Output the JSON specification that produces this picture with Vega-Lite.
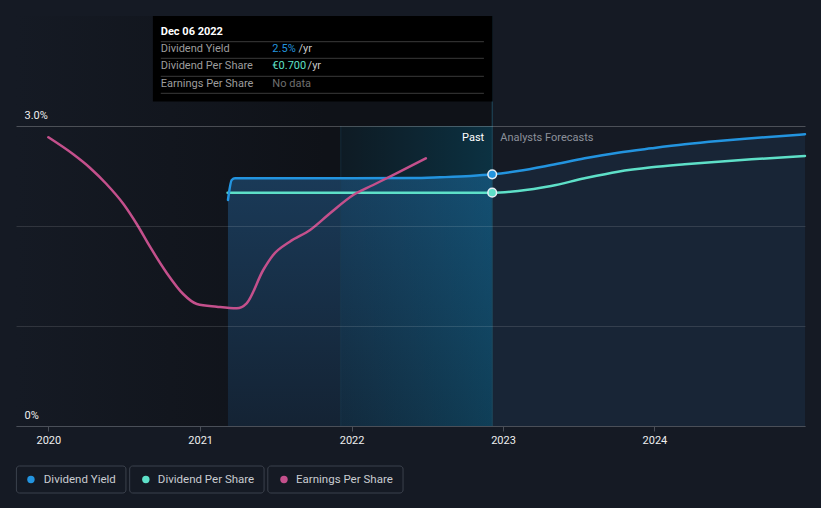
{
  "$schema": "https://vega.github.io/schema/vega-lite/v6.json",
  "width": 789,
  "height": 410,
  "autosize": {"type": "none"},
  "padding": {"left": 16, "right": 16, "top": 16, "bottom": 82},
  "background": "#151a24",
  "config": {"view": {"stroke": null}, "font": "Roboto"},
  "datasets": {
    "s": [
      {"date": "2021-03-09", "series": "Dividend Yield", "value": 2.26},
      {"date": "2021-03-18", "series": "Dividend Yield", "value": 2.46},
      {"date": "2021-03-26", "series": "Dividend Yield", "value": 2.477},
      {"date": "2021-08-01", "series": "Dividend Yield", "value": 2.478},
      {"date": "2022-01-01", "series": "Dividend Yield", "value": 2.477},
      {"date": "2022-05-27", "series": "Dividend Yield", "value": 2.479},
      {"date": "2022-08-02", "series": "Dividend Yield", "value": 2.487},
      {"date": "2022-10-15", "series": "Dividend Yield", "value": 2.5},
      {"date": "2022-12-06", "series": "Dividend Yield", "value": 2.517},
      {"date": "2023-02-06", "series": "Dividend Yield", "value": 2.55},
      {"date": "2023-04-27", "series": "Dividend Yield", "value": 2.61},
      {"date": "2023-07-17", "series": "Dividend Yield", "value": 2.677},
      {"date": "2023-10-05", "series": "Dividend Yield", "value": 2.733},
      {"date": "2023-12-25", "series": "Dividend Yield", "value": 2.777},
      {"date": "2024-03-14", "series": "Dividend Yield", "value": 2.817},
      {"date": "2024-06-03", "series": "Dividend Yield", "value": 2.85},
      {"date": "2024-08-22", "series": "Dividend Yield", "value": 2.877},
      {"date": "2024-12-29", "series": "Dividend Yield", "value": 2.917},
      {"date": "2021-03-08", "series": "Dividend Per Share", "value": 2.333},
      {"date": "2022-12-06", "series": "Dividend Per Share", "value": 2.333},
      {"date": "2023-02-06", "series": "Dividend Per Share", "value": 2.35},
      {"date": "2023-04-27", "series": "Dividend Per Share", "value": 2.4},
      {"date": "2023-07-17", "series": "Dividend Per Share", "value": 2.477},
      {"date": "2023-10-05", "series": "Dividend Per Share", "value": 2.543},
      {"date": "2023-12-25", "series": "Dividend Per Share", "value": 2.587},
      {"date": "2024-03-14", "series": "Dividend Per Share", "value": 2.617},
      {"date": "2024-06-03", "series": "Dividend Per Share", "value": 2.643},
      {"date": "2024-08-22", "series": "Dividend Per Share", "value": 2.667},
      {"date": "2024-12-29", "series": "Dividend Per Share", "value": 2.7},
      {"date": "2020-01-01", "series": "Earnings Per Share", "value": 2.887},
      {"date": "2020-03-01", "series": "Earnings Per Share", "value": 2.717},
      {"date": "2020-04-10", "series": "Earnings Per Share", "value": 2.583},
      {"date": "2020-05-20", "series": "Earnings Per Share", "value": 2.42},
      {"date": "2020-06-30", "series": "Earnings Per Share", "value": 2.22},
      {"date": "2020-08-01", "series": "Earnings Per Share", "value": 2.02},
      {"date": "2020-09-02", "series": "Earnings Per Share", "value": 1.793},
      {"date": "2020-10-12", "series": "Earnings Per Share", "value": 1.533},
      {"date": "2020-11-21", "series": "Earnings Per Share", "value": 1.32},
      {"date": "2020-12-24", "series": "Earnings Per Share", "value": 1.22},
      {"date": "2021-02-10", "series": "Earnings Per Share", "value": 1.193},
      {"date": "2021-03-30", "series": "Earnings Per Share", "value": 1.177},
      {"date": "2021-04-23", "series": "Earnings Per Share", "value": 1.227},
      {"date": "2021-06-02", "series": "Earnings Per Share", "value": 1.56},
      {"date": "2021-06-26", "series": "Earnings Per Share", "value": 1.71},
      {"date": "2021-08-05", "series": "Earnings Per Share", "value": 1.843},
      {"date": "2021-09-23", "series": "Earnings Per Share", "value": 1.96},
      {"date": "2021-11-10", "series": "Earnings Per Share", "value": 2.127},
      {"date": "2022-01-05", "series": "Earnings Per Share", "value": 2.31},
      {"date": "2022-02-22", "series": "Earnings Per Share", "value": 2.41},
      {"date": "2022-04-19", "series": "Earnings Per Share", "value": 2.527},
      {"date": "2022-06-29", "series": "Earnings Per Share", "value": 2.677}
    ]
  },
  "layer": [
    {
      "data": {"values": [{}]},
      "mark": {"type": "rect", "fill": {"gradient": "linear", "x1": 0, "y1": 0, "x2": 1, "y2": 0, "stops": [{"offset": 0, "color": "#151a24"}, {"offset": 0.65, "color": "#0f1218"}, {"offset": 1, "color": "#0f1218"}]}},
      "encoding": {
        "x": {"datum": {"year": 2019, "month": 10, "date": 15}, "type": "temporal"},
        "x2": {"datum": {"year": 2022, "month": 12, "date": 6}},
        "y": {"datum": 0, "type": "quantitative"},
        "y2": {"datum": 4.1}
      }
    },
    {
      "data": {"name": "s"},
      "transform": [{"filter": {"and": [{"field": "series", "equal": "Dividend Yield"}, {"field": "date", "lte": {"year": 2022, "month": 12, "date": 6, "utc": true}}]}}],
      "mark": {"type": "area", "interpolate": "monotone", "fill": {"gradient": "linear", "x1": 0, "y1": 0, "x2": 0, "y2": 1, "stops": [{"offset": 0, "color": "#1a3a58"}, {"offset": 1, "color": "#142334"}]}},
      "encoding": {
        "x": {"field": "date", "type": "temporal", "scale": {"domain": [{"year": 2019, "month": 10, "date": 15}, {"year": 2024, "month": 12, "date": 29}], "nice": false},
          "axis": {"title": null, "values": [{"year": 2020}, {"year": 2021}, {"year": 2022}, {"year": 2023}, {"year": 2024}], "format": "%Y", "labelColor": "#eeeeee", "labelFontSize": 11, "labelFont": "Roboto", "tickColor": "#4a4f58", "tickSize": 5, "domainColor": "#4a4f58", "labelPadding": 3, "grid": false, "zindex": 2, "labelFlush": false}},
        "y": {"field": "value", "type": "quantitative", "scale": {"domain": [0, 4.1], "nice": false, "zero": false},
          "axis": {"title": null, "values": [0, 1, 2, 3], "labelExpr": "datum.value == 3 ? '3.0%' : (datum.value == 0 ? '0%' : '')", "domain": false, "ticks": false, "tickSize": 0, "labelAlign": "left", "labelBaseline": "alphabetic", "labelPadding": -8, "labelOffset": -8, "labelColor": "#eeeeee", "labelFontSize": 11, "labelFont": "Roboto", "grid": true, "gridWidth": 1, "gridColor": {"condition": {"test": "datum.value == 3", "value": "rgba(255,255,255,0.24)"}, "value": "rgba(255,255,255,0.12)"}, "zindex": 1}}
      }
    },
    {
      "data": {"name": "s"},
      "transform": [{"filter": {"and": [{"field": "series", "equal": "Dividend Yield"}, {"field": "date", "gte": {"year": 2022, "month": 12, "date": 6, "utc": true}}]}}],
      "mark": {"type": "area", "interpolate": "monotone", "fill": "#182536"},
      "encoding": {
        "x": {"field": "date", "type": "temporal"},
        "y": {"field": "value", "type": "quantitative"}
      }
    },
    {
      "data": {"values": [{}]},
      "mark": {"type": "rect", "fill": {"gradient": "linear", "x1": 0, "y1": 0, "x2": 1, "y2": 0, "stops": [{"offset": 0, "color": "rgba(0,130,175,0.08)"}, {"offset": 1, "color": "rgba(0,150,200,0.24)"}]}},
      "encoding": {
        "x": {"datum": {"year": 2021, "month": 12, "date": 6}, "type": "temporal"},
        "x2": {"datum": {"year": 2022, "month": 12, "date": 6}},
        "y": {"datum": 0, "type": "quantitative"},
        "y2": {"datum": 3}
      }
    },
    {
      "data": {"values": [{}]},
      "mark": {"type": "rule", "color": "#1c4257", "opacity": 0.5, "strokeWidth": 1},
      "encoding": {
        "x": {"datum": {"year": 2021, "month": 12, "date": 6}, "type": "temporal"},
        "y": {"datum": 0, "type": "quantitative"},
        "y2": {"datum": 3}
      }
    },
    {
      "data": {"values": [{}]},
      "mark": {"type": "rule", "color": "#1f4a5e", "strokeWidth": 1},
      "encoding": {
        "x": {"datum": {"year": 2022, "month": 12, "date": 6}, "type": "temporal"},
        "y": {"datum": 0, "type": "quantitative"},
        "y2": {"datum": 4.1}
      }
    },
    {
      "data": {"name": "s"},
      "transform": [{"filter": {"field": "series", "equal": "Dividend Per Share"}}],
      "mark": {"type": "line", "interpolate": "monotone", "color": "#5ee0c8", "strokeWidth": 2.5, "strokeCap": "round"},
      "encoding": {"x": {"field": "date", "type": "temporal"}, "y": {"field": "value", "type": "quantitative"}}
    },
    {
      "data": {"name": "s"},
      "transform": [{"filter": {"field": "series", "equal": "Dividend Yield"}}],
      "mark": {"type": "line", "interpolate": "monotone", "color": "#2394df", "strokeWidth": 2.5, "strokeCap": "round"},
      "encoding": {"x": {"field": "date", "type": "temporal"}, "y": {"field": "value", "type": "quantitative"}}
    },
    {
      "data": {"name": "s"},
      "transform": [{"filter": {"field": "series", "equal": "Earnings Per Share"}}],
      "mark": {"type": "line", "interpolate": "monotone", "color": "#c4508c", "strokeWidth": 2.5, "strokeCap": "round"},
      "encoding": {"x": {"field": "date", "type": "temporal"}, "y": {"field": "value", "type": "quantitative"}}
    },
    {
      "data": {"name": "s"},
      "transform": [{"filter": {"and": [{"field": "series", "equal": "Dividend Yield"}, {"field": "date", "equal": {"year": 2022, "month": 12, "date": 6, "utc": true}}]}}],
      "mark": {"type": "circle", "size": 75, "color": "#2394df", "opacity": 1, "stroke": "#e6eef5", "strokeWidth": 1.5},
      "encoding": {"x": {"field": "date", "type": "temporal"}, "y": {"field": "value", "type": "quantitative"}}
    },
    {
      "data": {"name": "s"},
      "transform": [{"filter": {"and": [{"field": "series", "equal": "Dividend Per Share"}, {"field": "date", "equal": {"year": 2022, "month": 12, "date": 6, "utc": true}}]}}],
      "mark": {"type": "circle", "size": 75, "color": "#5ee0c8", "opacity": 1, "stroke": "#e6eef5", "strokeWidth": 1.5},
      "encoding": {"x": {"field": "date", "type": "temporal"}, "y": {"field": "value", "type": "quantitative"}}
    },
    {
      "data": {"values": [{}]},
      "mark": {"type": "text", "text": "Past", "align": "right", "baseline": "middle", "dx": -8, "color": "#ffffff", "fontSize": 11},
      "encoding": {"x": {"datum": {"year": 2022, "month": 12, "date": 6}, "type": "temporal"}, "y": {"datum": 2.88, "type": "quantitative"}}
    },
    {
      "data": {"values": [{}]},
      "mark": {"type": "text", "text": "Analysts Forecasts", "align": "left", "baseline": "middle", "dx": 8, "color": "#8c919a", "fontSize": 11},
      "encoding": {"x": {"datum": {"year": 2022, "month": 12, "date": 6}, "type": "temporal"}, "y": {"datum": 2.88, "type": "quantitative"}}
    },
    {
      "data": {"values": [{}]},
      "mark": {"type": "rect", "fill": "#000000"},
      "encoding": {
        "x": {"datum": {"year": 2020, "month": 9, "date": 9}, "type": "temporal"},
        "x2": {"datum": {"year": 2022, "month": 12, "date": 7}},
        "y": {"datum": 3.245, "type": "quantitative"},
        "y2": {"datum": 4.1}
      }
    },
    {
      "data": {"values": [{}]},
      "mark": {"type": "rule", "color": "#3a3a3a", "strokeWidth": 1},
      "encoding": {"x": {"datum": {"year": 2020, "month": 9, "date": 28}, "type": "temporal"}, "x2": {"datum": {"year": 2022, "month": 11, "date": 16}}, "y": {"datum": 3.843, "type": "quantitative"}}
    },
    {
      "data": {"values": [{}]},
      "mark": {"type": "rule", "color": "#3a3a3a", "strokeWidth": 1},
      "encoding": {"x": {"datum": {"year": 2020, "month": 9, "date": 28}, "type": "temporal"}, "x2": {"datum": {"year": 2022, "month": 11, "date": 16}}, "y": {"datum": 3.677, "type": "quantitative"}}
    },
    {
      "data": {"values": [{}]},
      "mark": {"type": "rule", "color": "#3a3a3a", "strokeWidth": 1},
      "encoding": {"x": {"datum": {"year": 2020, "month": 9, "date": 28}, "type": "temporal"}, "x2": {"datum": {"year": 2022, "month": 11, "date": 16}}, "y": {"datum": 3.497, "type": "quantitative"}}
    },
    {
      "data": {"values": [{}]},
      "mark": {"type": "rule", "color": "#3a3a3a", "strokeWidth": 1},
      "encoding": {"x": {"datum": {"year": 2020, "month": 9, "date": 28}, "type": "temporal"}, "x2": {"datum": {"year": 2022, "month": 11, "date": 16}}, "y": {"datum": 3.327, "type": "quantitative"}}
    },
    {
      "data": {"values": [{}]},
      "mark": {"type": "text", "text": "Dec 06 2022", "align": "left", "baseline": "middle", "color": "#ffffff", "fontSize": 11, "fontWeight": "bold"},
      "encoding": {"x": {"datum": {"year": 2020, "month": 9, "date": 28}, "type": "temporal"}, "y": {"datum": 3.943, "type": "quantitative"}}
    },
    {
      "data": {"values": [{}]},
      "mark": {"type": "text", "text": "Dividend Yield", "align": "left", "baseline": "middle", "color": "#9d9d9d", "fontSize": 11},
      "encoding": {"x": {"datum": {"year": 2020, "month": 9, "date": 28}, "type": "temporal"}, "y": {"datum": 3.767, "type": "quantitative"}}
    },
    {
      "data": {"values": [{}]},
      "mark": {"type": "text", "text": "Dividend Per Share", "align": "left", "baseline": "middle", "color": "#9d9d9d", "fontSize": 11},
      "encoding": {"x": {"datum": {"year": 2020, "month": 9, "date": 28}, "type": "temporal"}, "y": {"datum": 3.6, "type": "quantitative"}}
    },
    {
      "data": {"values": [{}]},
      "mark": {"type": "text", "text": "Earnings Per Share", "align": "left", "baseline": "middle", "color": "#9d9d9d", "fontSize": 11},
      "encoding": {"x": {"datum": {"year": 2020, "month": 9, "date": 28}, "type": "temporal"}, "y": {"datum": 3.423, "type": "quantitative"}}
    },
    {
      "data": {"values": [{}]},
      "mark": {"type": "text", "text": "2.5%", "align": "left", "baseline": "middle", "color": "#2394df", "fontSize": 11},
      "encoding": {"x": {"datum": {"year": 2021, "month": 6, "date": 24}, "type": "temporal"}, "y": {"datum": 3.767, "type": "quantitative"}}
    },
    {
      "data": {"values": [{}]},
      "mark": {"type": "text", "text": "/yr", "align": "left", "baseline": "middle", "color": "#c8c8c8", "fontSize": 11},
      "encoding": {"x": {"datum": {"year": 2021, "month": 8, "date": 26}, "type": "temporal"}, "y": {"datum": 3.767, "type": "quantitative"}}
    },
    {
      "data": {"values": [{}]},
      "mark": {"type": "text", "text": "€0.700", "align": "left", "baseline": "middle", "color": "#5ee0c8", "fontSize": 11},
      "encoding": {"x": {"datum": {"year": 2021, "month": 6, "date": 24}, "type": "temporal"}, "y": {"datum": 3.6, "type": "quantitative"}}
    },
    {
      "data": {"values": [{}]},
      "mark": {"type": "text", "text": "/yr", "align": "left", "baseline": "middle", "color": "#c8c8c8", "fontSize": 11},
      "encoding": {"x": {"datum": {"year": 2021, "month": 9, "date": 17}, "type": "temporal"}, "y": {"datum": 3.6, "type": "quantitative"}}
    },
    {
      "data": {"values": [{}]},
      "mark": {"type": "text", "text": "No data", "align": "left", "baseline": "middle", "color": "#6f6f6f", "fontSize": 11},
      "encoding": {"x": {"datum": {"year": 2021, "month": 6, "date": 24}, "type": "temporal"}, "y": {"datum": 3.423, "type": "quantitative"}}
    },
    {
      "data": {"values": [{}]},
      "mark": {"type": "rect", "fill": "transparent", "stroke": "#3b414c", "strokeWidth": 1, "cornerRadius": 3},
      "encoding": {"x": {"datum": {"year": 2019, "month": 10, "date": 16}, "type": "temporal"}, "x2": {"datum": {"year": 2020, "month": 7, "date": 6}}, "y": {"datum": -0.4, "type": "quantitative"}, "y2": {"datum": -0.67}}
    },
    {
      "data": {"values": [{}]},
      "mark": {"type": "rect", "fill": "transparent", "stroke": "#3b414c", "strokeWidth": 1, "cornerRadius": 3},
      "encoding": {"x": {"datum": {"year": 2020, "month": 7, "date": 15}, "type": "temporal"}, "x2": {"datum": {"year": 2021, "month": 6, "date": 4}}, "y": {"datum": -0.4, "type": "quantitative"}, "y2": {"datum": -0.67}}
    },
    {
      "data": {"values": [{}]},
      "mark": {"type": "rect", "fill": "transparent", "stroke": "#3b414c", "strokeWidth": 1, "cornerRadius": 3},
      "encoding": {"x": {"datum": {"year": 2021, "month": 6, "date": 13}, "type": "temporal"}, "x2": {"datum": {"year": 2022, "month": 5, "date": 5}}, "y": {"datum": -0.4, "type": "quantitative"}, "y2": {"datum": -0.67}}
    },
    {
      "data": {"values": [{}]},
      "mark": {"type": "circle", "size": 55, "color": "#2394df", "opacity": 1},
      "encoding": {"x": {"datum": {"year": 2019, "month": 11, "date": 20}, "type": "temporal"}, "y": {"datum": -0.535, "type": "quantitative"}}
    },
    {
      "data": {"values": [{}]},
      "mark": {"type": "circle", "size": 55, "color": "#5ee0c8", "opacity": 1},
      "encoding": {"x": {"datum": {"year": 2020, "month": 8, "date": 23}, "type": "temporal"}, "y": {"datum": -0.535, "type": "quantitative"}}
    },
    {
      "data": {"values": [{}]},
      "mark": {"type": "circle", "size": 55, "color": "#c4508c", "opacity": 1},
      "encoding": {"x": {"datum": {"year": 2021, "month": 7, "date": 22}, "type": "temporal"}, "y": {"datum": -0.535, "type": "quantitative"}}
    },
    {
      "data": {"values": [{}]},
      "mark": {"type": "text", "text": "Dividend Yield", "align": "left", "baseline": "middle", "color": "#c9ccd1", "fontSize": 11.5},
      "encoding": {"x": {"datum": {"year": 2019, "month": 12, "date": 21}, "type": "temporal"}, "y": {"datum": -0.535, "type": "quantitative"}}
    },
    {
      "data": {"values": [{}]},
      "mark": {"type": "text", "text": "Dividend Per Share", "align": "left", "baseline": "middle", "color": "#c9ccd1", "fontSize": 11.5},
      "encoding": {"x": {"datum": {"year": 2020, "month": 9, "date": 21}, "type": "temporal"}, "y": {"datum": -0.535, "type": "quantitative"}}
    },
    {
      "data": {"values": [{}]},
      "mark": {"type": "text", "text": "Earnings Per Share", "align": "left", "baseline": "middle", "color": "#c9ccd1", "fontSize": 11.5},
      "encoding": {"x": {"datum": {"year": 2021, "month": 8, "date": 20}, "type": "temporal"}, "y": {"datum": -0.535, "type": "quantitative"}}
    }
  ]
}
